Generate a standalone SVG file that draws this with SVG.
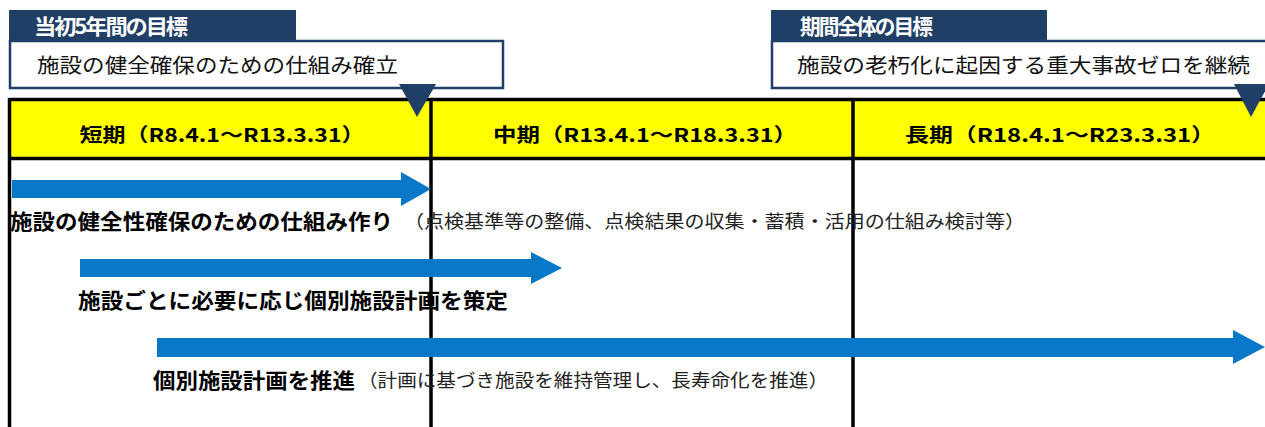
<svg xmlns="http://www.w3.org/2000/svg" width="1265" height="427" viewBox="0 0 1265 427">
<style>
.tab{fill:#1F3F66}
.tabt{fill:#fff;font-family:"Noto Sans CJK JP","Noto Sans",sans-serif;font-weight:bold;font-size:21px;letter-spacing:-2px}
.box{fill:#fff;stroke:#1F3F66;stroke-width:2.5}
.boxt{fill:#111;font-family:"Noto Sans CJK JP","Noto Sans",sans-serif;font-size:20px}
.hdr{fill:#000;font-family:"Noto Sans CJK JP","Noto Sans",sans-serif;font-weight:bold;font-size:19px}
.lbl{fill:#000;font-family:"Noto Sans CJK JP","Noto Sans",sans-serif;font-weight:bold;font-size:21px}
.note{fill:#222;font-family:"Noto Sans CJK JP","Noto Sans",sans-serif;font-size:18px}
.arr{fill:#0A78C8}
.tri{fill:#1F3F66}
.ln{stroke:#000;stroke-width:3.5;fill:none}
</style>
<rect width="1265" height="427" fill="#fff"/>
<g id="table">
<rect x="9" y="100" width="1260" height="58" fill="#FFFF00"/>
<line class="ln" x1="9" y1="99.5" x2="1265" y2="99.5"/>
<line class="ln" x1="9" y1="158.5" x2="1265" y2="158.5"/>
<line class="ln" x1="9.5" y1="98" x2="9.5" y2="427"/>
<line class="ln" x1="431" y1="98" x2="431" y2="427"/>
<line class="ln" x1="853" y1="98" x2="853" y2="427"/>
</g>
<g id="hdr-short"><text class="hdr" x="222" y="142" text-anchor="middle" textLength="285" lengthAdjust="spacingAndGlyphs">短期（R8.4.1～R13.3.31）</text></g>
<g id="hdr-mid"><text class="hdr" x="645" y="142" text-anchor="middle" textLength="304" lengthAdjust="spacingAndGlyphs">中期（R13.4.1～R18.3.31）</text></g>
<g id="hdr-long"><text class="hdr" x="1060" y="142" text-anchor="middle" textLength="310" lengthAdjust="spacingAndGlyphs">長期（R18.4.1～R23.3.31）</text></g>
<g id="goal1">
<rect class="box" x="10" y="41" width="493" height="47"/>
<rect class="tab" x="9" y="10" width="287" height="32"/>
<text class="tabt" x="34" y="34" textLength="152" lengthAdjust="spacingAndGlyphs">当初5年間の目標</text>
<text class="boxt" x="37" y="73" textLength="361" lengthAdjust="spacingAndGlyphs">施設の健全確保のための仕組み確立</text>
<polygon class="tri" points="399,84 436,84 417,117"/>
</g>
<g id="goal2">
<rect class="box" x="772" y="41" width="500" height="47"/>
<rect class="tab" x="771" y="10" width="276" height="32"/>
<text class="tabt" x="800" y="34" textLength="131" lengthAdjust="spacingAndGlyphs">期間全体の目標</text>
<text class="boxt" x="797" y="73" textLength="453" lengthAdjust="spacingAndGlyphs">施設の老朽化に起因する重大事故ゼロを継続</text>
<polygon class="tri" points="1234,84 1269,84 1251,117"/>
</g>
<g id="connectors">
<polygon class="arr" points="12,180 401,180 401,172 431,189 401,206 401,198 12,198"/>
<polygon class="arr" points="80,259 531,259 531,252 562,268 531,284 531,277 80,277"/>
<polygon class="arr" points="157,338 1233,338 1233,330 1265,347 1233,364 1233,357 157,357"/>
</g>
<g id="task1">
<text class="lbl" x="10" y="229" textLength="383" lengthAdjust="spacingAndGlyphs">施設の健全性確保のための仕組み作り</text>
<text class="note" x="404" y="228" textLength="621" lengthAdjust="spacingAndGlyphs">（点検基準等の整備、点検結果の収集・蓄積・活用の仕組み検討等）</text>
</g>
<g id="task2">
<text class="lbl" x="78" y="308" textLength="430" lengthAdjust="spacingAndGlyphs">施設ごとに必要に応じ個別施設計画を策定</text>
</g>
<g id="task3">
<text class="lbl" x="153" y="388" textLength="202" lengthAdjust="spacingAndGlyphs">個別施設計画を推進</text>
<text class="note" x="358" y="387" textLength="470" lengthAdjust="spacingAndGlyphs">（計画に基づき施設を維持管理し、長寿命化を推進）</text>
</g>
</svg>
